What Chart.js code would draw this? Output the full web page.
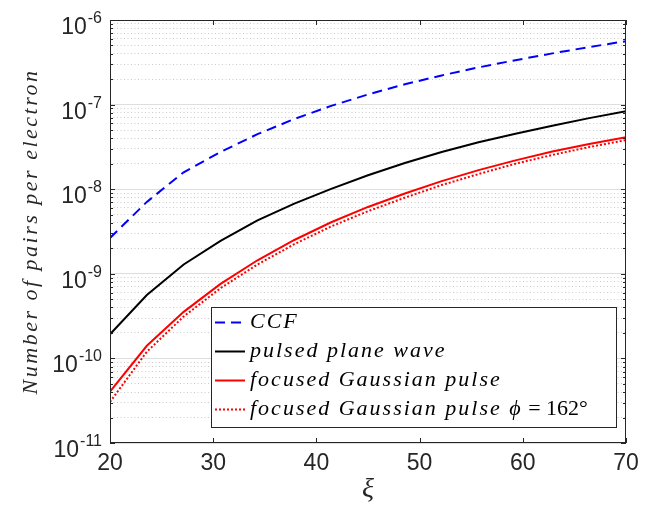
<!DOCTYPE html>
<html lang="en">
<head>
<meta charset="UTF-8">
<title>Number of pairs per electron</title>
<script src="https://cdn.jsdelivr.net/npm/chart.js@4.4.1/dist/chart.umd.min.js"></script>
<style>
  html, body { margin:0; padding:0; background:#ffffff; }
  #wrap { width:649px; height:506px; }
</style>
</head>
<body>
<div id="wrap"><canvas id="pairs_chart" width="649" height="506"></canvas></div>
<script>
// xi values of the computed points
const xi = [20, 23.57, 27.14, 30.71, 34.29, 37.86, 41.43, 45, 48.57, 52.14, 55.71, 59.29, 62.86, 66.43, 70];
// pairs per electron
const ccf = [2.65e-9, 7.08e-9, 1.585e-8, 2.75e-8, 4.47e-8, 6.76e-8, 9.66e-8, 1.318e-7, 1.738e-7, 2.213e-7, 2.754e-7, 3.35e-7, 4.03e-7, 4.79e-7, 5.62e-7];
const planeWave = [1.93e-10, 5.62e-10, 1.29e-9, 2.45e-9, 4.27e-9, 6.76e-9, 1.01e-8, 1.46e-8, 2.04e-8, 2.75e-8, 3.59e-8, 4.52e-8, 5.62e-8, 6.92e-8, 8.37e-8];
const gaussPulse = [4.04e-11, 1.41e-10, 3.55e-10, 7.59e-10, 1.445e-9, 2.51e-9, 4.07e-9, 6.17e-9, 8.91e-9, 1.245e-8, 1.68e-8, 2.19e-8, 2.79e-8, 3.43e-8, 4.12e-8];
const gaussPulse162 = [3.06e-11, 1.20e-10, 3.13e-10, 6.76e-10, 1.29e-9, 2.24e-9, 3.63e-9, 5.50e-9, 7.94e-9, 1.12e-8, 1.51e-8, 2.0e-8, 2.54e-8, 3.15e-8, 3.80e-8];

const xTicks = [20, 30, 40, 50, 60, 70];
const yDecades = [-11, -10, -9, -8, -7, -6];
const seriesNames = ['CCF', 'pulsed plane wave', 'focused Gaussian pulse', 'focused Gaussian pulse'];

const AX = '#262626';
const SANS = '"Liberation Sans", Arial, sans-serif';
const SERIF = '"Liberation Serif", "Times New Roman", serif';

function isMajor(v) {
  const l = Math.log10(v);
  return Math.abs(l - Math.round(l)) < 1e-6;
}
function pts(ys) { return xi.map((x, i) => ({x: x, y: ys[i]})); }

// box, inside ticks, y tick labels (10 with superscript) and y title
const axesPlugin = {
  id: 'axesBox',
  afterDatasetsDraw(chart) {
    const {ctx, chartArea: a, scales: {x, y}} = chart;
    ctx.save();
    ctx.strokeStyle = AX;
    ctx.lineWidth = 1;
    ctx.beginPath();
    xTicks.forEach(v => {
      const px = Math.round(x.getPixelForValue(v)) + 0.5;
      ctx.moveTo(px, a.bottom); ctx.lineTo(px, a.bottom - 5);
      ctx.moveTo(px, a.top); ctx.lineTo(px, a.top + 5);
    });
    y.ticks.forEach(t => {
      const py = Math.round(y.getPixelForValue(t.value)) + 0.5;
      const len = isMajor(t.value) ? 5 : 3;
      ctx.moveTo(a.left, py); ctx.lineTo(a.left + len, py);
      ctx.moveTo(a.right, py); ctx.lineTo(a.right - len, py);
    });
    ctx.stroke();
    ctx.strokeRect(a.left + 0.5, a.top + 0.5, a.width - 1, a.height - 1);

    // y tick labels
    ctx.fillStyle = AX;
    ctx.textBaseline = 'alphabetic';
    ctx.textAlign = 'left';
    const rightEdge = a.left - 8;
    yDecades.forEach(d => {
      const py = y.getPixelForValue(Math.pow(10, d));
      const sup = '-' + Math.abs(d);
      ctx.font = '16px ' + SANS;
      const ws = ctx.measureText(sup).width;
      ctx.font = '23px ' + SANS;
      const wb = ctx.measureText('10').width;
      ctx.fillText('10', rightEdge - ws - wb - 1, py + 14);
      ctx.font = '16px ' + SANS;
      ctx.fillText(sup, rightEdge - ws, py + 3);
    });

    // y axis title
    ctx.save();
    ctx.translate(37, (a.top + a.bottom) / 2);
    ctx.rotate(-Math.PI / 2);
    ctx.font = 'italic 22px ' + SERIF;
    ctx.letterSpacing = '2.5px';
    ctx.textAlign = 'center';
    ctx.fillStyle = AX;
    ctx.fillText('Number of pairs per electron', 0, 0);
    ctx.restore();
    ctx.restore();
  }
};

// legend box inside the plot, lower right
const legendPlugin = {
  id: 'insideLegend',
  afterDraw(chart) {
    const {ctx, chartArea: a} = chart;
    const bx = a.left + 101, by = a.bottom - 136, bw = a.right - 9 - bx, bh = 121;
    ctx.save();
    ctx.fillStyle = '#ffffff';
    ctx.fillRect(bx, by, bw, bh);
    ctx.strokeStyle = AX;
    ctx.lineWidth = 1;
    ctx.strokeRect(bx + 0.5, by + 0.5, bw - 1, bh - 1);

    const italic = 'italic 22px ' + SERIF;
    const upright = '22px ' + SERIF;
    const rows = [
      [[seriesNames[0], italic]],
      [[seriesNames[1], italic]],
      [[seriesNames[2], italic]],
      [[seriesNames[3] + ' ', italic], ['\u03D5', italic], [' = 162', upright], ['\u00B0', upright]]
    ];
    chart.data.datasets.forEach((ds, i) => {
      const cy = by + 15 + i * 29;
      ctx.strokeStyle = ds.borderColor;
      ctx.lineWidth = ds.borderWidth;
      ctx.setLineDash(ds.borderDash || []);
      ctx.beginPath();
      ctx.moveTo(bx + 4, cy + 0.5);
      ctx.lineTo(bx + 34, cy + 0.5);
      ctx.stroke();
      ctx.setLineDash([]);
      let tx = bx + 39;
      ctx.fillStyle = '#000000';
      ctx.textBaseline = 'middle';
      rows[i].forEach(seg => {
        ctx.font = seg[1];
        ctx.letterSpacing = seg[1] === italic ? '2px' : '0px';
        ctx.fillText(seg[0], tx, cy);
        tx += ctx.measureText(seg[0]).width;
      });
    });
    ctx.restore();
  }
};

const ctx = document.getElementById('pairs_chart').getContext('2d');
new Chart(ctx, {
  type: 'line',
  data: {
    datasets: [
      { label: seriesNames[0], data: pts(ccf), borderColor: '#0000ff', borderWidth: 2, borderDash: [10, 6] },
      { label: seriesNames[1], data: pts(planeWave), borderColor: '#000000', borderWidth: 2 },
      { label: seriesNames[2], data: pts(gaussPulse), borderColor: '#ff0000', borderWidth: 2 },
      { label: seriesNames[3], data: pts(gaussPulse162), borderColor: '#ff0000', borderWidth: 2, borderDash: [2, 2] }
    ]
  },
  options: {
    responsive: false,
    animation: false,
    devicePixelRatio: 1,
    layout: { padding: { left: 0, top: 20, right: 23, bottom: 0 } },
    elements: {
      line: { tension: 0, fill: false, borderCapStyle: 'butt' },
      point: { radius: 0, hoverRadius: 0 }
    },
    plugins: { legend: { display: false }, tooltip: { enabled: false } },
    scales: {
      x: {
        type: 'linear', min: 20, max: 70,
        afterBuildTicks: s => { s.ticks = xTicks.map(v => ({ value: v })); },
        ticks: { color: AX, font: { family: SANS, size: 23 }, padding: 7, maxRotation: 0, autoSkip: false },
        grid: { display: false, drawTicks: false },
        border: { display: false },
        title: { display: true, text: '\u03BE', color: AX, font: { family: SERIF, style: 'italic', size: 28 }, padding: { top: 0, bottom: 0 } },
        afterFit: s => { s.height = 63; }
      },
      y: {
        type: 'logarithmic', min: 1e-11, max: 1e-6,
        afterBuildTicks: s => {
          const t = [];
          yDecades.forEach(d => {
            const top = d === -6 ? 1 : 9;
            for (let m = 1; m <= top; m++) t.push({ value: m * Math.pow(10, d) });
          });
          s.ticks = t;
        },
        ticks: { display: false },
        grid: {
          drawTicks: false,
          lineWidth: 1,
          color: c => (c.tick && isMajor(c.tick.value)) ? '#dedede' : '#cacaca'
        },
        border: { display: false, dash: c => (c.tick && !isMajor(c.tick.value)) ? [1, 2.5] : [] },
        afterFit: s => { s.width = 110; }
      }
    }
  },
  plugins: [axesPlugin, legendPlugin]
});
</script>
</body>
</html>
